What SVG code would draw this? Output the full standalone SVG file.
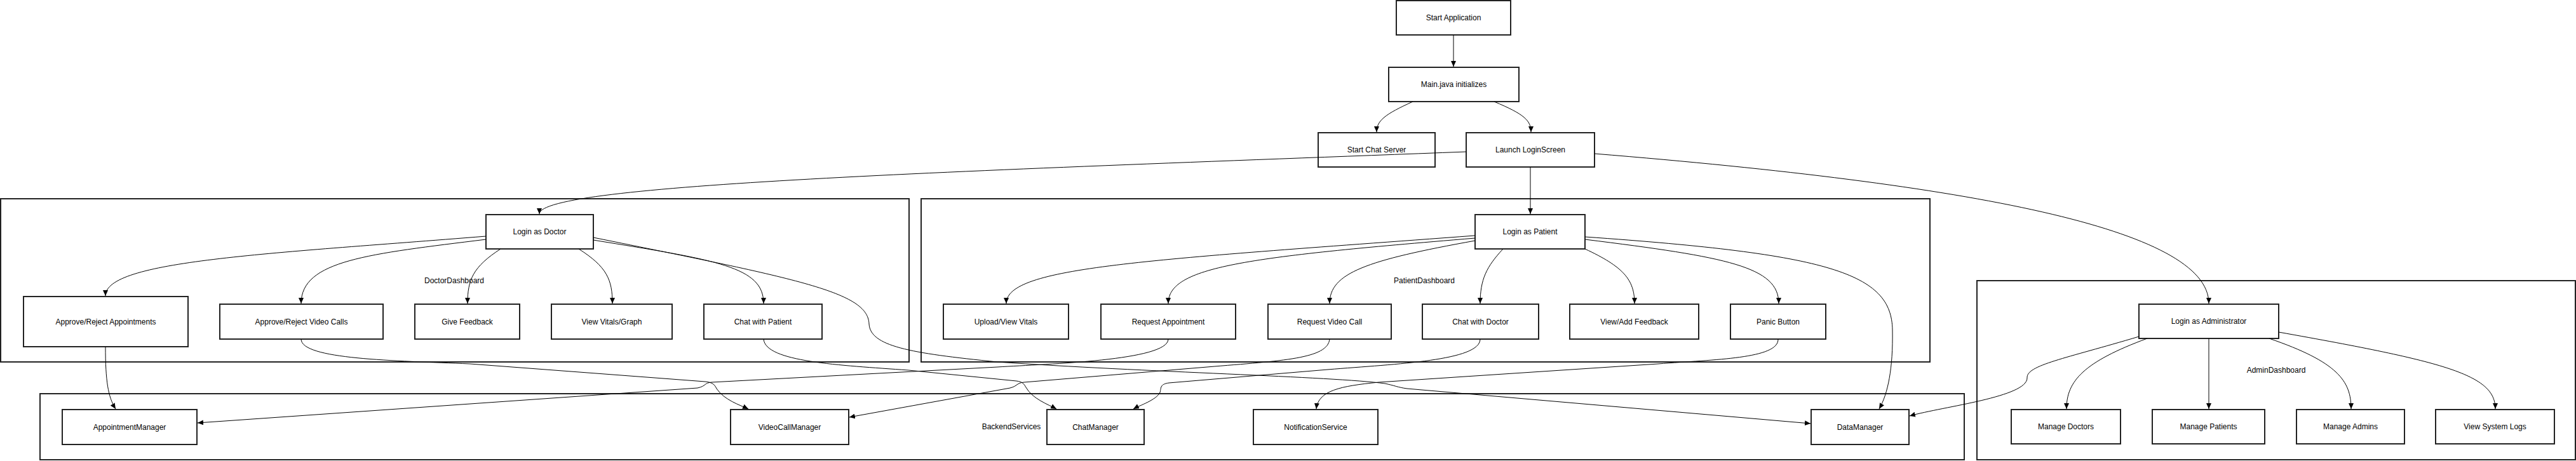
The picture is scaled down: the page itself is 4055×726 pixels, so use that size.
<svg xmlns="http://www.w3.org/2000/svg" width="4055" height="726" viewBox="0 0 4055 726">
<defs>
<style>
.cl{fill:#fff;stroke:#222;stroke-width:2}
.nd{fill:#fff;stroke:#222;stroke-width:2}
.t{font-family:"Liberation Sans",Arial,sans-serif;font-size:12px;fill:#000;text-anchor:middle;dominant-baseline:central}
.e{fill:none;stroke:#000;stroke-width:1}
</style>
<marker id="ah" markerUnits="userSpaceOnUse" markerWidth="9" markerHeight="8" viewBox="0 0 10 10" refX="10" refY="5" orient="auto" preserveAspectRatio="none">
<path d="M0,0 L10,5 L0,10 z" fill="#000"/>
</marker>
</defs>
<rect width="4055" height="726" fill="#fff"/>

<g id="DoctorDashboard">
<rect class="cl" x="1" y="313" width="1430" height="257"/>
<text class="t" x="715" y="442">DoctorDashboard</text>
</g>
<g id="PatientDashboard">
<rect class="cl" x="1450" y="313" width="1588" height="257"/>
<text class="t" x="2242" y="442">PatientDashboard</text>
</g>
<g id="AdminDashboard">
<rect class="cl" x="3112" y="442" width="942" height="282"/>
<text class="t" x="3583" y="583">AdminDashboard</text>
</g>
<g id="BackendServices">
<rect class="cl" x="63" y="620" width="3029" height="104"/>
<text class="t" x="1592" y="672">BackendServices</text>
</g>

<g id="startApp"><rect class="nd" x="2198" y="1" width="180" height="54"/><text class="t" x="2288" y="28">Start Application</text></g>
<g id="mainInit"><rect class="nd" x="2186" y="106" width="205" height="54"/><text class="t" x="2288.5" y="133">Main.java initializes</text></g>
<g id="chatServer"><rect class="nd" x="2075" y="209" width="184" height="54"/><text class="t" x="2167" y="236">Start Chat Server</text></g>
<g id="loginScreen"><rect class="nd" x="2308" y="209" width="202" height="54"/><text class="t" x="2409" y="236">Launch LoginScreen</text></g>

<g id="loginDoctor"><rect class="nd" x="765" y="338" width="169" height="54"/><text class="t" x="849.5" y="365">Login as Doctor</text></g>
<g id="approveAppts"><rect class="nd" x="37" y="467" width="259" height="79"/><text class="t" x="166.5" y="506.5">Approve/Reject Appointments</text></g>
<g id="approveVideo"><rect class="nd" x="346" y="479" width="257" height="55"/><text class="t" x="474.5" y="506.5">Approve/Reject Video Calls</text></g>
<g id="giveFeedback"><rect class="nd" x="653" y="479" width="165" height="55"/><text class="t" x="735.5" y="506.5">Give Feedback</text></g>
<g id="viewVitalsGraph"><rect class="nd" x="868" y="479" width="190" height="55"/><text class="t" x="963" y="506.5">View Vitals/Graph</text></g>
<g id="chatPatient"><rect class="nd" x="1108" y="479" width="186" height="55"/><text class="t" x="1201" y="506.5">Chat with Patient</text></g>

<g id="loginPatient"><rect class="nd" x="2322" y="338" width="173" height="54"/><text class="t" x="2408.5" y="365">Login as Patient</text></g>
<g id="uploadVitals"><rect class="nd" x="1485" y="479" width="197" height="55"/><text class="t" x="1583.5" y="506.5">Upload/View Vitals</text></g>
<g id="requestAppt"><rect class="nd" x="1733" y="479" width="212" height="55"/><text class="t" x="1839" y="506.5">Request Appointment</text></g>
<g id="requestVideo"><rect class="nd" x="1996" y="479" width="194" height="55"/><text class="t" x="2093" y="506.5">Request Video Call</text></g>
<g id="chatDoctor"><rect class="nd" x="2239" y="479" width="183" height="55"/><text class="t" x="2330.5" y="506.5">Chat with Doctor</text></g>
<g id="viewFeedback"><rect class="nd" x="2471" y="479" width="203" height="55"/><text class="t" x="2572.5" y="506.5">View/Add Feedback</text></g>
<g id="panicButton"><rect class="nd" x="2724" y="479" width="150" height="55"/><text class="t" x="2799" y="506.5">Panic Button</text></g>

<g id="loginAdmin"><rect class="nd" x="3367" y="479" width="220" height="54"/><text class="t" x="3477" y="506">Login as Administrator</text></g>
<g id="manageDoctors"><rect class="nd" x="3166" y="645" width="172" height="54"/><text class="t" x="3252" y="672">Manage Doctors</text></g>
<g id="managePatients"><rect class="nd" x="3388" y="645" width="177" height="54"/><text class="t" x="3476.5" y="672">Manage Patients</text></g>
<g id="manageAdmins"><rect class="nd" x="3615" y="645" width="170" height="54"/><text class="t" x="3700" y="672">Manage Admins</text></g>
<g id="viewLogs"><rect class="nd" x="3834" y="645" width="187" height="54"/><text class="t" x="3927.5" y="672">View System Logs</text></g>

<g id="appointmentManager"><rect class="nd" x="98" y="645" width="212" height="55"/><text class="t" x="204" y="672.5">AppointmentManager</text></g>
<g id="videoCallManager"><rect class="nd" x="1150" y="645" width="186" height="55"/><text class="t" x="1243" y="672.5">VideoCallManager</text></g>
<g id="chatManager"><rect class="nd" x="1648" y="645" width="153" height="55"/><text class="t" x="1724.5" y="672.5">ChatManager</text></g>
<g id="notificationService"><rect class="nd" x="1973" y="645" width="196" height="55"/><text class="t" x="2071" y="672.5">NotificationService</text></g>
<g id="dataManager"><rect class="nd" x="2851" y="645" width="154" height="55"/><text class="t" x="2928" y="672.5">DataManager</text></g>

<g id="connectors">
<path class="e" marker-end="url(#ah)" d="M2288,55 L2288,105"/>
<path class="e" marker-end="url(#ah)" d="M2224,160 C2180,180 2167,190 2167,208"/>
<path class="e" marker-end="url(#ah)" d="M2352,160 C2400,180 2410,190 2410,208"/>
<path class="e" marker-end="url(#ah)" d="M2308,239 C1500,270 849,290 849,337"/>
<path class="e" marker-end="url(#ah)" d="M2409,263 L2409,337"/>
<path class="e" marker-end="url(#ah)" d="M2510,242 C3100,290 3477,360 3477,478"/>

<path class="e" marker-end="url(#ah)" d="M765,372 C420,400 166,410 166,466"/>
<path class="e" marker-end="url(#ah)" d="M765,377 C580,400 474,410 474,478"/>
<path class="e" marker-end="url(#ah)" d="M788,392 C745,420 736,440 736,478"/>
<path class="e" marker-end="url(#ah)" d="M911,392 C955,420 964,440 964,478"/>
<path class="e" marker-end="url(#ah)" d="M934,378 C1130,410 1202,420 1202,478"/>
<path class="e" marker-end="url(#ah)" d="M934,374 C1260,440 1366,460 1368,510 C1370,545 1430,556 1570,570 C1800,586 2100,593 2180,604 C2195,607 2200,610 2215,612 L2850,667"/>

<path class="e" marker-end="url(#ah)" d="M2322,371 C1800,410 1584,420 1584,478"/>
<path class="e" marker-end="url(#ah)" d="M2322,375 C1960,405 1839,420 1839,478"/>
<path class="e" marker-end="url(#ah)" d="M2322,379 C2150,410 2093,430 2093,478"/>
<path class="e" marker-end="url(#ah)" d="M2366,392 C2340,420 2330,440 2330,478"/>
<path class="e" marker-end="url(#ah)" d="M2495,392 C2555,420 2573,440 2573,478"/>
<path class="e" marker-end="url(#ah)" d="M2495,377 C2720,405 2800,420 2800,478"/>
<path class="e" marker-end="url(#ah)" d="M2495,373 C2880,400 2978,430 2979,520 C2980,580 2972,620 2958,644"/>

<path class="e" marker-end="url(#ah)" d="M3380,533 C3280,570 3253,600 3253,644"/>
<path class="e" marker-end="url(#ah)" d="M3477,533 L3477,644"/>
<path class="e" marker-end="url(#ah)" d="M3572,533 C3680,570 3701,600 3701,644"/>
<path class="e" marker-end="url(#ah)" d="M3587,523 C3850,570 3928,590 3928,644"/>
<path class="e" marker-end="url(#ah)" d="M3367,530 C3250,565 3190,575 3191,595 C3192,625 3060,640 3006,655"/>

<path class="e" marker-end="url(#ah)" d="M166,546 C166,600 170,625 182,644"/>
<path class="e" marker-end="url(#ah)" d="M474,534 C474,566 620,568 740,573 L1110,601 C1122,602 1125,606 1128,612 C1140,630 1165,638 1178,644"/>
<path class="e" marker-end="url(#ah)" d="M1202,534 C1205,570 1320,575 1430,583 L1600,600 C1610,601 1612,605 1615,610 C1625,628 1650,637 1663,644"/>

<path class="e" marker-end="url(#ah)" d="M1839,534 C1839,568 1650,573 1570,578 L1120,602 C1108,603 1112,608 1098,611 L311,666"/>
<path class="e" marker-end="url(#ah)" d="M2093,534 C2090,565 2020,568 1900,578 L1612,602 C1600,603 1602,608 1590,611 L1337,657"/>
<path class="e" marker-end="url(#ah)" d="M2330,534 C2330,568 2200,573 2090,582 L1840,603 C1825,605 1828,612 1826,618 C1820,630 1795,638 1784,644"/>
<path class="e" marker-end="url(#ah)" d="M2799,534 C2800,565 2700,566 2610,573 L2170,602 C2110,608 2075,615 2072,644"/>
</g>
</svg>
